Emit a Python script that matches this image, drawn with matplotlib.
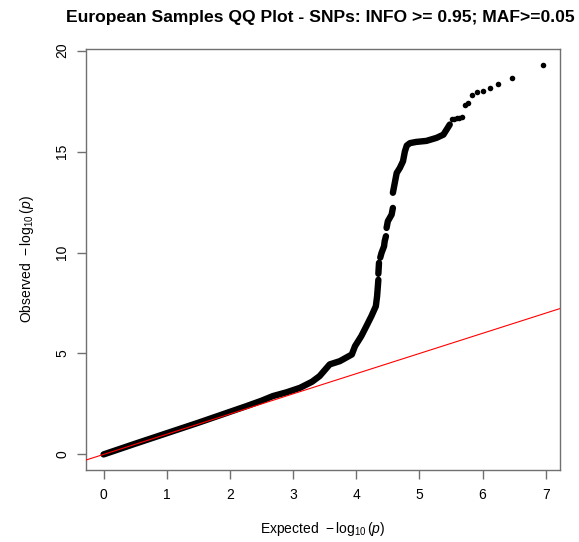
import numpy as np
import matplotlib
matplotlib.use("Agg")
import matplotlib.pyplot as plt

plt.rcParams['font.family'] = ['Liberation Sans', 'DejaVu Sans']
plt.rcParams['mathtext.fontset'] = 'custom'
plt.rcParams['mathtext.rm'] = 'Liberation Sans'
plt.rcParams['mathtext.it'] = 'Liberation Sans:italic'

TITLE = "European Samples QQ Plot - SNPs: INFO >= 0.95; MAF>=0.05"

# dense part of the QQ curve (expected, observed);
# NaN marks a visible break between runs of points
expected_dense = [0.0, 0.5, 1.0, 1.5, 2.0, 2.26, 2.5, 2.68, 2.9, 3.11, 3.3, 3.42,
                  3.58, 3.74, 3.93, 3.98, 4.08, 4.16, 4.24, 4.31, 4.33, 4.35, np.nan,
                  4.35, 4.36, np.nan,
                  4.38, 4.40, 4.44, 4.45, 4.47, np.nan,
                  4.48, 4.50, 4.56, 4.58, np.nan,
                  4.58, 4.61, 4.64, 4.69, 4.74, 4.77, 4.80, 4.85, 4.95, 5.11,
                  5.27, 5.38, 5.43, 5.48]
observed_dense = [0.0, 0.53, 1.05, 1.57, 2.11, 2.39, 2.66, 2.89, 3.08, 3.30, 3.6, 3.88,
                  4.46, 4.62, 4.95, 5.36, 5.86, 6.35, 6.85, 7.34, 7.84, 8.65, np.nan,
                  8.95, 9.49, np.nan,
                  9.75, 9.98, 10.31, 10.56, 10.81, np.nan,
                  11.22, 11.55, 11.88, 12.21, np.nan,
                  12.96, 13.45, 13.94, 14.19, 14.52, 15.01, 15.30, 15.42, 15.48, 15.53,
                  15.68, 15.84, 16.09, 16.34]

# sparse top tail: single points
expected_tail = [5.51, 5.55, 5.59, 5.63, 5.67, 5.72, 5.77, 5.84, 5.91, 6.00, 6.11,
                 6.25, 6.47, 6.95]
observed_tail = [16.61, 16.63, 16.66, 16.68, 16.71, 17.33, 17.41, 17.82, 17.94, 18.02,
                 18.13, 18.35, 18.63, 19.31]

fig = plt.figure(figsize=(5.79, 5.42), dpi=100)
ax = fig.add_axes([0.1485, 0.1328, 0.819, 0.7768])

ax.plot(expected_dense, observed_dense, '-', color='black', lw=4.6,
        solid_capstyle='round', solid_joinstyle='round')
ax.plot(expected_tail, observed_tail, 'o', color='black', ms=4.0, mew=0)
ax.axline((0, 0), slope=1, color='red', lw=0.8, zorder=5)

ax.margins(x=0.04, y=0.04)
ax.set_xticks(range(0, 8))
ax.set_yticks([0, 5, 10, 15, 20])
for sp in ax.spines.values():
    sp.set_color('#707070')
    sp.set_linewidth(1.0)
ax.tick_params(direction='out', length=6.2, width=1.0, color='#707070',
               labelsize=10, pad=7)
ax.tick_params(axis='y', pad=6)
for lab in ax.get_yticklabels():
    lab.set_rotation(90)
    lab.set_va('center')

ax.set_xlabel(r'Expected  $-\,\log_{10}(p)$', fontsize=10, labelpad=13)
ax.set_ylabel(r'Observed  $-\,\log_{10}(p)$', fontsize=10, labelpad=14)
fig.text(0.553, 0.968, TITLE, ha='center', va='center', fontsize=12.6,
         fontweight='bold')

fig.savefig('out.png', dpi=100)
